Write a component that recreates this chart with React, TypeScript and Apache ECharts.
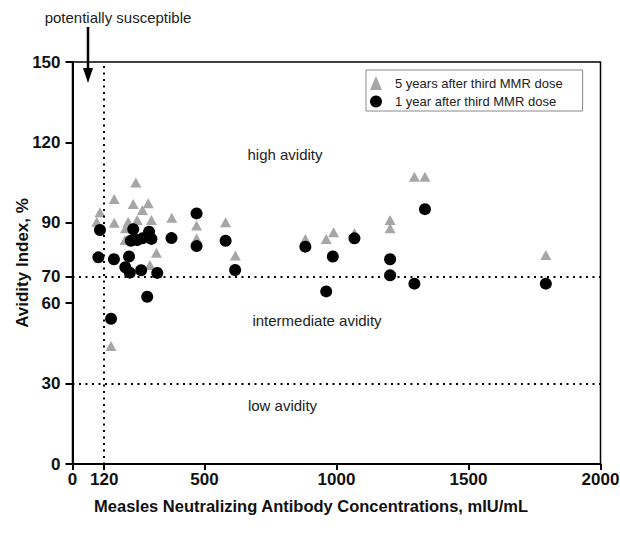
import React, { useEffect, useRef } from "react";
import * as echarts from "echarts";

const seriesNames = ["5 years after third MMR dose", "1 year after third MMR dose"];

const fiveYearX = [240, 158, 230, 287, 104, 265, 92, 158, 211, 245, 299, 376, 201, 199, 470, 580, 318, 617, 293, 470, 146, 882, 961, 989, 1068, 1203, 1203, 1295, 1335, 1793];
const fiveYearY = [105, 98.9, 97, 97.3, 93.9, 94.8, 90.4, 90, 90.4, 91, 91, 91.9, 88, 83.6, 89, 90.2, 78.8, 77.8, 74.3, 84.1, 44, 84, 84, 86.5, 86.2, 91, 88, 107.2, 107.2, 78];

const oneYearX = [104, 98, 157, 214, 200, 217, 260, 321, 230, 221, 245, 265, 290, 299, 375, 470, 470, 580, 616, 283, 146, 882, 986, 961, 1068, 1203, 1203, 1295, 1335, 1793];
const oneYearY = [87.3, 77.1, 76.4, 77.4, 73.4, 71.4, 72.3, 71.3, 87.6, 83.3, 83.6, 84.2, 86.7, 84, 84.3, 93.5, 81.3, 83.3, 72.4, 62.4, 54.2, 81.1, 77.4, 64.4, 84.2, 76.4, 70.4, 67.3, 95.1, 67.3];

const xTicks = [0, 120, 500, 1000, 1500, 2000];
const yTicks = [0, 30, 60, 70, 90, 120, 150];

const susceptibleThreshold = 120;
const avidityCutoffs = [70, 30];

const xTitle = "Measles Neutralizing Antibody Concentrations, mIU/mL";
const yTitle = "Avidity Index, %";
const regionLabels = ["high avidity", "intermediate avidity", "low avidity"];
const arrowLabel = "potentially susceptible";

const FONT = "'Liberation Sans', Arial, Helvetica, sans-serif";

export default function App() {
  const ref = useRef<HTMLDivElement>(null);
  useEffect(() => {
    document.body.style.margin = "0";
    if (!ref.current) return;
    const chart = echarts.init(ref.current, null, { renderer: "svg" });
    const pairs = (xs: number[], ys: number[]) => xs.map((x, i) => [x, ys[i]]);
    const regionText = (text: string, x: number, y: number) => ({
      type: "text",
      x,
      y,
      style: { text, fontSize: 15, fill: "#222", fontFamily: FONT, align: "center", verticalAlign: "middle" },
    });
    const option: any = {
      animation: false,
      backgroundColor: "#fff",
      textStyle: { fontFamily: FONT },
      grid: {
        left: 72.5,
        right: 19.5,
        top: 62,
        bottom: 78,
        containLabel: false,
        outerBoundsMode: "none",
        show: true,
        borderColor: "#000",
        borderWidth: 1.5,
        backgroundColor: "transparent",
      },
      legend: {
        data: seriesNames,
        orient: "vertical",
        left: 366,
        top: 70,
        padding: [6, 20, 3, 4],
        itemGap: 5,
        itemWidth: 12,
        itemHeight: 14,
        borderColor: "#888",
        borderWidth: 1,
        textStyle: { fontSize: 13, color: "#222", fontFamily: FONT, padding: [0, 0, 0, 8] },
      },
      xAxis: {
        type: "value",
        min: 0,
        max: 2000,
        splitLine: { show: false },
        axisLine: { show: true, lineStyle: { color: "#000", width: 2 } },
        axisTick: { show: true, length: 6, lineStyle: { color: "#000", width: 2 }, customValues: xTicks },
        axisLabel: {
          customValues: xTicks,
          formatter: (v: number) => String(v),
          margin: 7,
          fontSize: 17,
          fontWeight: "bold",
          color: "#111",
          fontFamily: FONT,
        },
      },
      yAxis: {
        type: "value",
        min: 0,
        max: 150,
        name: yTitle,
        nameLocation: "middle",
        nameRotate: 90,
        nameGap: 42,
        nameMoveOverlap: false,
        nameTextStyle: { fontSize: 17, fontWeight: "bold", color: "#111", fontFamily: FONT },
        splitLine: { show: false },
        axisLine: { show: true, lineStyle: { color: "#000", width: 2 } },
        axisTick: { show: true, length: 7, lineStyle: { color: "#000", width: 2 }, customValues: yTicks },
        axisLabel: {
          customValues: yTicks,
          formatter: (v: number) => String(v),
          margin: 12,
          fontSize: 17,
          fontWeight: "bold",
          color: "#111",
          fontFamily: FONT,
        },
      },
      series: [
        {
          name: "cutoffs",
          type: "scatter",
          data: [],
          silent: true,
          markLine: {
            silent: true,
            symbol: ["none", "none"],
            label: { show: false },
            lineStyle: { color: "#000", width: 2, type: [2, 4.5], cap: "butt" },
            data: [
              [{ coord: [susceptibleThreshold, 148.5] }, { coord: [susceptibleThreshold, 0] }],
              ...avidityCutoffs.map((c) => [{ coord: [0, c] }, { coord: [2000, c] }]),
            ],
          },
        },
        {
          name: seriesNames[0],
          type: "scatter",
          symbol: "triangle",
          symbolSize: [11, 10],
          itemStyle: { color: "#a6a6a6", opacity: 1 },
          data: pairs(fiveYearX, fiveYearY),
        },
        {
          name: seriesNames[1],
          type: "scatter",
          symbol: "circle",
          symbolSize: 12,
          itemStyle: { color: "#000", opacity: 1 },
          data: pairs(oneYearX, oneYearY),
        },
      ],
      graphic: [
        {
          type: "text",
          x: 118,
          y: 17,
          style: { text: arrowLabel, fontSize: 15, fill: "#222", fontFamily: FONT, align: "center", verticalAlign: "middle" },
        },
        {
          type: "line",
          shape: { x1: 88, y1: 27, x2: 88, y2: 70 },
          style: { stroke: "#000", lineWidth: 2.5 },
        },
        {
          type: "polygon",
          shape: { points: [[83, 68], [93, 68], [88, 83]] },
          style: { fill: "#000" },
        },
        regionText(regionLabels[0], 285, 154),
        regionText(regionLabels[1], 317, 320),
        regionText(regionLabels[2], 282.5, 405),
        {
          type: "text",
          x: 311,
          y: 506,
          style: { text: xTitle, fontSize: 16.5, fontWeight: "bold", fill: "#111", fontFamily: FONT, align: "center", verticalAlign: "middle" },
        },
      ],
    };
    chart.setOption(option);
    return () => chart.dispose();
  }, []);
  return <div ref={ref} style={{ width: 620, height: 542 }} />;
}
